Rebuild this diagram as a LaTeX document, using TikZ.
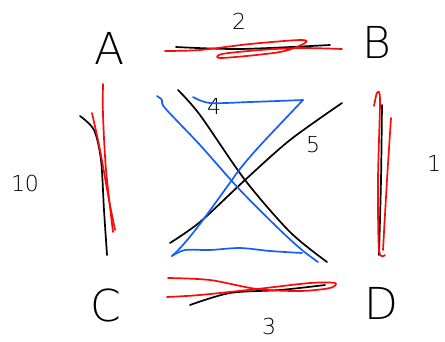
\documentclass[tikz,border=0pt]{standalone}
\usepackage{fontspec}
\setmainfont{DejaVu Sans}
\definecolor{penred}{RGB}{250,10,10}
\definecolor{penblue}{RGB}{20,95,250}
\begin{document}
\begin{tikzpicture}[x=1pt,y=-1pt,
  ink/.style={line width=1.7pt,line cap=round,line join=round},
  letter/.style={font=\fontsize{44}{44}\selectfont\fontspec{DejaVu Sans ExtraLight}},
  num/.style={font=\fontsize{22}{22}\selectfont\fontspec{DejaVu Sans ExtraLight}}]
\useasboundingbox (0,0) rectangle (445,341);
\fill[white] (0,0) rectangle (445,341);
% letters
\node[letter] (A) at (110,48) {A};
\node[letter] (B) at (377,42) {B};
\node[letter] (C) at (106,305) {C};
\node[letter] (D) at (381,303) {D};
% weights
\node[num] (w2) at (239,21) {2};
\node[num] (w4) at (214,106) {4};
\node[num] (w5) at (313,145) {5};
\node[num] (w10) at (25,183) {10};
\node[num] (w1) at (434,163) {1};
\node[num] (w3) at (269,326) {3};
% A-B
\draw[ink,black] plot[smooth] coordinates {(176,47) (240,49) (330,45)};
\draw[ink,penred] plot[smooth] coordinates {(165,51) (200,50) (250,44) (300,40) (305,43) (280,52) (222,58) (222,54) (260,50) (300,48) (342,49)};
% A-C
\draw[ink,black] plot[smooth] coordinates {(80,116) (94,130) (101,160) (104,210) (107,255)};
\draw[ink,penred] plot[smooth] coordinates {(103,84) (103,115) (106,170) (113,232)};
\draw[ink,penred] plot[smooth] coordinates {(92,113) (100,150) (109,200) (115,230)};
% B-D
\draw[ink,black] plot[smooth] coordinates {(382,105) (381,180) (379,255)};
\draw[ink,penred] plot[smooth] coordinates {(374,106) (377,93) (380,100) (378,180) (379,250) (385,255)};
\draw[ink,penred] plot[smooth] coordinates {(391,118) (387,180) (383,250)};
% diagonals
\draw[ink,black] plot[smooth] coordinates {(178,90) (200,115) (245,180) (290,232) (327,262)};
\draw[ink,black] plot[smooth] coordinates {(170,243) (200,222) (245,180) (290,140) (342,103)};
% blue hourglass
\draw[ink,penblue] plot[smooth] coordinates {(157,96) (162,100) (165,108) (200,145) (240,190) (280,230) (302,250) (318,262)};
\draw[ink,penblue] plot[smooth] coordinates {(193,97) (210,103) (250,102) (303,100)};
\draw[ink,penblue] (303,100) .. controls (270,135) and (245,160) .. (232,180) .. controls (210,210) and (190,240) .. (172,256);
\draw[ink,penblue] plot[smooth] coordinates {(172,256) (185,250) (210,250) (240,248) (270,251) (302,253)};
% C-D
\draw[ink,black] plot[smooth] coordinates {(190,305) (230,293) (280,290) (325,285)};
\draw[ink,penred] plot[smooth] coordinates {(168,278) (210,280) (257,289) (300,291) (330,288) (335,283) (310,283) (257,289) (200,295) (167,297)};
\end{tikzpicture}
\end{document}
